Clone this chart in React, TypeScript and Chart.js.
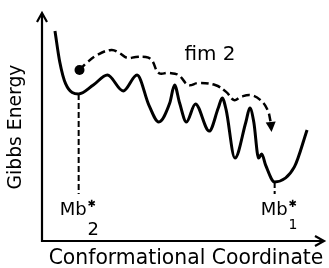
import React, { useEffect, useRef } from "react";
import { Chart, registerables } from "chart.js";
Chart.register(...registerables);

// Energy landscape (arbitrary units, 0-100 on both axes)
const curveX = [4.6, 6.3, 8.4, 13.0, 18.2, 23.2, 28.8, 33.7, 37.9, 41.4, 45.3, 47.0, 48.8, 51.2, 54.4, 59.3, 62.5, 63.9, 65.3, 68.4, 72.3, 73.7, 75.1, 76.8, 77.9, 79.3, 82.5, 89.5, 94.0];
const curveY = [92.1, 78.5, 68.9, 64.5, 68.4, 72.8, 65.8, 72.8, 59.6, 52.2, 60.5, 68.4, 60.5, 52.2, 60.1, 48.2, 58.3, 62.7, 57.5, 36.4, 52.2, 58.3, 52.2, 36.4, 38.2, 33.3, 25.9, 32.5, 48.7];

// Relaxation path "fim 2" (last point = arrow tip)
const pathX = [13.3, 15.8, 19.6, 24.6, 27.4, 30.2, 33.3, 36.8, 38.9, 41.4, 44.9, 48.4, 51.9, 55.4, 61.4, 65.3, 68.1, 70.5, 74.0, 77.5, 80.0, 81.1, 81.4];
const pathY = [75.0, 78.1, 81.6, 83.8, 82.5, 80.3, 80.7, 80.7, 79.4, 73.7, 73.7, 72.8, 68.4, 69.3, 68.4, 65.4, 61.8, 63.2, 64.0, 61.8, 57.5, 52.2, 47.8];

// States (minima) and their drop lines
const stateNames = ["Mb", "Mb"];
const stateSubs = ["2", "1"];
const stateX = [13.0, 82.5];
const stateY = [64.5, 25.9];
const dropBottom = 20.6;

const xTitle = "Conformational Coordinate";
const yTitle = "Gibbs Energy";
const pathLabel = "fim 2";

const FONT = '"DejaVu Sans", sans-serif';

function fitSize(ctx: CanvasRenderingContext2D, text: string, width: number, weight: string) {
  ctx.font = `${weight} 20px ${FONT}`;
  const w = ctx.measureText(text).width;
  return (20 * width) / w;
}

const overlay = {
  id: "overlay",
  afterDraw(chart: any) {
    const { ctx, chartArea: a, scales } = chart;
    const sx = scales.x;
    const sy = scales.y;
    ctx.save();
    ctx.strokeStyle = "#000";
    ctx.fillStyle = "#000";
    ctx.lineWidth = 2.2;
    ctx.setLineDash([]);
    // y axis with arrow
    ctx.beginPath();
    ctx.moveTo(a.left, a.bottom + 1);
    ctx.lineTo(a.left, a.top + 1);
    ctx.stroke();
    ctx.beginPath();
    ctx.moveTo(a.left - 5, a.top + 9);
    ctx.lineTo(a.left, a.top);
    ctx.lineTo(a.left + 5, a.top + 9);
    ctx.stroke();
    // x axis with arrow
    ctx.beginPath();
    ctx.moveTo(a.left - 1, a.bottom);
    ctx.lineTo(a.right - 1, a.bottom);
    ctx.stroke();
    ctx.beginPath();
    ctx.moveTo(a.right - 9, a.bottom - 5);
    ctx.lineTo(a.right, a.bottom);
    ctx.lineTo(a.right - 9, a.bottom + 5);
    ctx.stroke();

    // arrow head of path
    const n = pathX.length;
    const tx = sx.getPixelForValue(pathX[n - 1]);
    const ty = sy.getPixelForValue(pathY[n - 1]);
    const bx = sx.getPixelForValue(pathX[n - 2]);
    const by = sy.getPixelForValue(pathY[n - 2]);
    const ang = Math.atan2(ty - by, tx - bx);
    const len = Math.hypot(tx - bx, ty - by);
    const hw = 5;
    ctx.beginPath();
    ctx.moveTo(tx, ty);
    ctx.lineTo(tx - len * Math.cos(ang) - hw * Math.sin(ang), ty - len * Math.sin(ang) + hw * Math.cos(ang));
    ctx.lineTo(tx - len * Math.cos(ang) + hw * Math.sin(ang), ty - len * Math.sin(ang) - hw * Math.cos(ang));
    ctx.closePath();
    ctx.fill();

    // titles
    ctx.textAlign = "center";
    ctx.textBaseline = "alphabetic";
    let s = fitSize(ctx, xTitle, 275, "normal");
    ctx.font = `normal ${s}px ${FONT}`;
    ctx.fillText(xTitle, (a.left + a.right) / 2 + 3, a.bottom + 23);

    s = fitSize(ctx, yTitle, 125, "normal");
    ctx.save();
    ctx.translate(a.left - 21, (a.top + a.bottom) / 2);
    ctx.rotate(-Math.PI / 2);
    ctx.font = `normal ${s}px ${FONT}`;
    ctx.fillText(yTitle, 0, 0);
    ctx.restore();

    // path label
    s = fitSize(ctx, pathLabel, 51, "normal");
    ctx.font = `normal ${s}px ${FONT}`;
    ctx.textAlign = "left";
    ctx.fillText(pathLabel, sx.getPixelForValue(50.5), a.top + 47);

    // state labels
    const offs = [-19, -14];
    const subSizes = [18, 14];
    const subDy = [20, 14];
    for (let i = 0; i < stateNames.length; i++) {
      const px = sx.getPixelForValue(stateX[i]);
      const base = sy.getPixelForValue(dropBottom) + 21;
      ctx.font = `normal 18px ${FONT}`;
      ctx.textAlign = "left";
      const left = px + offs[i];
      ctx.fillText(stateNames[i], left, base);
      const w = ctx.measureText(stateNames[i]).width;
      ctx.font = `normal ${subSizes[i]}px ${FONT}`;
      ctx.fillText(stateSubs[i], left + w + 1, base + subDy[i]);
      ctx.font = `normal 10px ${FONT}`;
      ctx.fillText("\u2731", left + w + 1, base - 8);
    }
    ctx.restore();
  },
};

export default function App() {
  const ref = useRef<HTMLCanvasElement | null>(null);
  useEffect(() => {
    document.body.style.margin = "0";
    const canvas = ref.current;
    if (!canvas) return;
    const curve = curveX.map((x, i) => ({ x, y: curveY[i] }));
    const path = pathX.slice(0, -1).map((x, i) => ({ x, y: pathY[i] }));
    const drops = stateX.map((x, i) => ({
      type: "line" as const,
      data: [
        { x, y: stateY[i] },
        { x, y: dropBottom },
      ],
      borderColor: "#000",
      borderWidth: 2,
      borderDash: [6, 3],
      pointRadius: 0,
      tension: 0,
    }));
    const chart = new Chart(canvas, {
      type: "line",
      data: {
        datasets: [
          {
            data: curve,
            borderColor: "#000",
            borderWidth: 3,
            pointRadius: 0,
            cubicInterpolationMode: "monotone",
          } as any,
          {
            data: path,
            borderColor: "#000",
            backgroundColor: "#000",
            borderWidth: 2.5,
            borderDash: [8, 4],
            pointRadius: path.map((_, i) => (i === 0 ? 5 : 0)),
            pointBorderWidth: 0,
            tension: 0.4,
          },
          ...drops,
        ],
      },
      options: {
        animation: false,
        responsive: false,
        layout: { padding: { left: 42, top: 13, right: 2, bottom: 27 } },
        plugins: { legend: { display: false }, tooltip: { enabled: false } },
        scales: {
          x: { type: "linear", min: 0, max: 100, display: false },
          y: { type: "linear", min: 0, max: 100, display: false },
        },
      },
      plugins: [overlay],
    });
    return () => chart.destroy();
  }, []);
  return <canvas ref={ref} width={329} height={268} />;
}
